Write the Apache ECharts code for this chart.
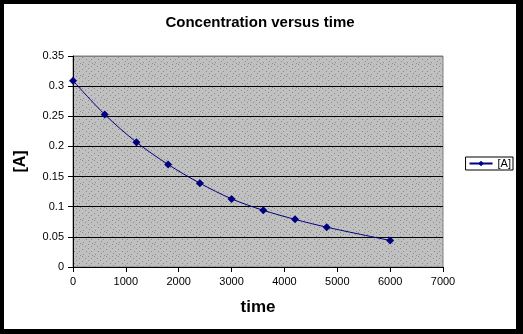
<!DOCTYPE html>
<html>
<head>
<meta charset="utf-8">
<script src="https://cdn.jsdelivr.net/npm/echarts@6/dist/echarts.min.js"></script>
<style>
  html, body { margin: 0; padding: 0; background: #000; }
  #frame { position: absolute; left: 4px; top: 4px; width: 512px; height: 325px; background: #fff; }
  #chart { width: 512px; height: 325px; }
</style>
</head>
<body>
<div id="frame"><div id="chart"></div></div>
<script>
// Concentration of A over time
const times = [0, 600, 1200, 1800, 2400, 3000, 3600, 4200, 4800, 6000];
const concA = [0.309, 0.253, 0.207, 0.170, 0.139, 0.113, 0.094, 0.079, 0.066, 0.044];
const seriesName = '[A]';
const xTicks = { min: 0, max: 7000, interval: 1000 };
const yTicks = { min: 0, max: 0.35, interval: 0.05 };

// stippled grey fill for the plot area
function stipple() {
  const c = document.createElement('canvas');
  c.width = 12; c.height = 12;
  const g = c.getContext('2d');
  g.fillStyle = '#c0c0c0';
  g.fillRect(0, 0, 12, 12);
  g.fillStyle = '#8c8c8c';
  const dots = [[0,0],[6,0],[3,2],[9,2],[0,4],[6,5],[3,7],[10,7],[1,9],[7,10],[4,11]];
  dots.forEach(([x, y]) => g.fillRect(x, y, 1, 1));
  return c;
}

const chart = echarts.init(document.getElementById('chart'), null, { renderer: 'canvas' });
const font = 'Liberation Sans, Arial, sans-serif';

chart.setOption({
  animation: false,
  textStyle: { fontFamily: font },
  title: {
    text: 'Concentration versus time',
    left: 'center',
    top: 6,
    textStyle: { fontSize: 15, fontWeight: 'bold', color: '#000', fontFamily: font }
  },
  legend: {
    right: 3,
    top: 153,
    orient: 'vertical',
    itemWidth: 23,
    itemHeight: 7,
    itemGap: 0,
    padding: [1, 2, 1, 3],
    borderColor: '#000',
    borderWidth: 1,
    backgroundColor: '#fff',
    textStyle: { fontSize: 11, color: '#000', fontFamily: font, lineHeight: 10 },
    data: [seriesName]
  },
  grid: {
    left: 69, top: 52, width: 370, height: 211,
    show: true,
    backgroundColor: { image: stipple(), repeat: 'repeat' },
    borderColor: '#808080',
    borderWidth: 1
  },
  xAxis: {
    type: 'value',
    min: xTicks.min, max: xTicks.max, interval: xTicks.interval,
    name: 'time',
    nameLocation: 'middle',
    nameGap: 32,
    nameTextStyle: { fontSize: 17, fontWeight: 'bold', color: '#000', fontFamily: font },
    axisLine: { lineStyle: { color: '#000', width: 1 } },
    axisTick: { show: true, length: 5, lineStyle: { color: '#000' } },
    axisLabel: { fontSize: 11, color: '#000', margin: 9, fontFamily: font, formatter: v => String(v) },
    splitLine: { show: false }
  },
  yAxis: {
    type: 'value',
    min: yTicks.min, max: yTicks.max, interval: yTicks.interval,
    name: seriesName,
    nameLocation: 'middle',
    nameRotate: 90,
    nameGap: 44,
    nameTextStyle: { fontSize: 16, fontWeight: 'bold', color: '#000', fontFamily: font },
    axisLine: { show: true, lineStyle: { color: '#000', width: 1 } },
    axisTick: { show: true, length: 5, lineStyle: { color: '#000' } },
    axisLabel: { fontSize: 11, color: '#000', margin: 9, fontFamily: font },
    splitLine: {
      show: true,
      lineStyle: { color: ['#000', '#000', '#000', '#000', '#000', '#000', '#000', '#808080'], width: 1 }
    }
  },
  series: [{
    name: seriesName,
    type: 'line',
    data: times.map((t, i) => [t, concA[i]]),
    smooth: 0.3,
    symbol: 'diamond',
    symbolSize: 8,
    itemStyle: { color: '#000080' },
    lineStyle: { color: '#000080', width: 1 }
  }]
});
</script>
</body>
</html>
